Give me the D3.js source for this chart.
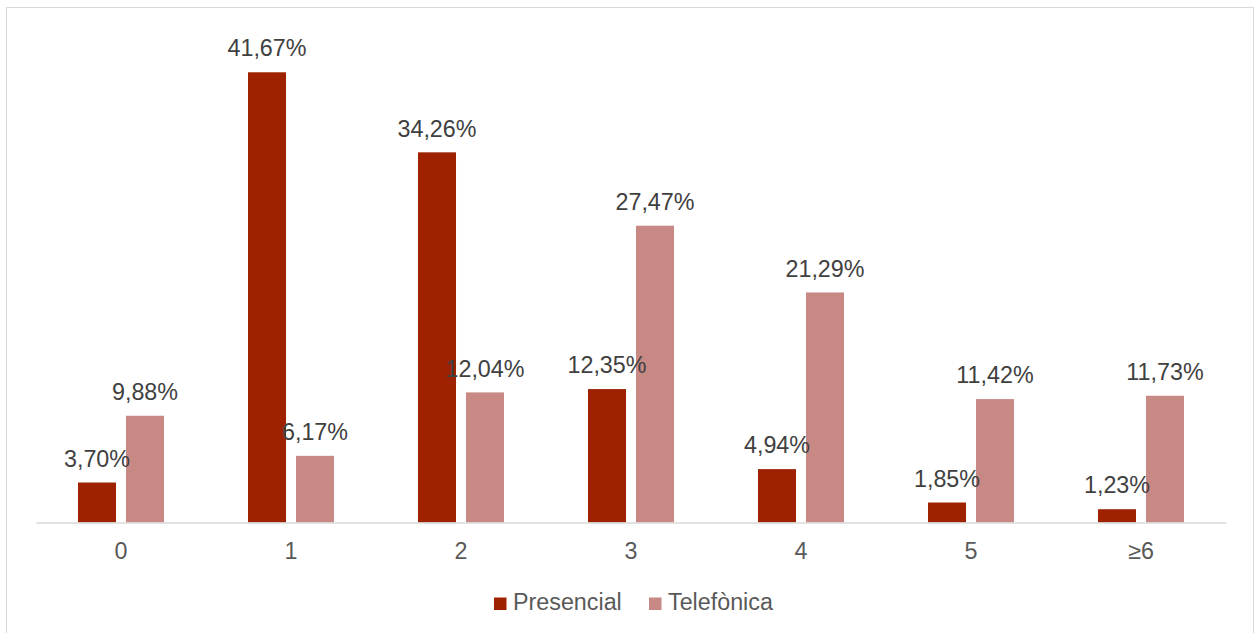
<!DOCTYPE html>
<html>
<head>
<meta charset="utf-8">
<script src="https://cdn.jsdelivr.net/npm/d3@7"></script>
<style>
  html, body { margin: 0; padding: 0; background: #fff; }
  svg { display: block; font-family: "Liberation Sans", Arial, sans-serif; }
</style>
</head>
<body>
<svg id="chart" width="1257" height="633"></svg>
<script>
// Number of visits (category) and share per consultation type
const categories = ["0", "1", "2", "3", "4", "5", "≥6"];
const seriesNames = ["Presencial", "Telefònica"];
const presencial = [3.70, 41.67, 34.26, 12.35, 4.94, 1.85, 1.23];
const telefonica = [9.88, 6.17, 12.04, 27.47, 21.29, 11.42, 11.73];
const colors = ["#9E2200", "#C88883"];

const FS = 23.3;
const svg = d3.select("#chart");

// outer frame
svg.append("rect")
  .attr("x", 6.5).attr("y", 7.5)
  .attr("width", 1247).attr("height", 640)
  .attr("fill", "#fff").attr("stroke", "#D9D9D9").attr("stroke-width", 1);

const x0 = d3.scaleBand().domain(categories).range([36, 1226]);
const bw = x0.bandwidth();
// two bars per category, centred, with a small gap between them
const x1 = d3.scaleBand().domain(seriesNames)
  .range([bw * 0.247, bw * 0.753]).paddingInner(0.208).paddingOuter(0);
const y = d3.scaleLinear().domain([0, 45]).range([522.5, 36.3]);

const rows = categories.map((c, i) => ({
  cat: c,
  vals: [
    { s: seriesNames[0], v: presencial[i], color: colors[0] },
    { s: seriesNames[1], v: telefonica[i], color: colors[1] }
  ]
}));

const fmt = v => v.toFixed(2).replace(".", ",") + "%";

const groups = svg.append("g").selectAll("g.cat").data(rows).join("g")
  .attr("class", "cat")
  .attr("transform", d => `translate(${x0(d.cat)},0)`);

groups.selectAll("rect").data(d => d.vals).join("rect")
  .attr("x", d => x1(d.s))
  .attr("width", x1.bandwidth())
  .attr("y", d => y(d.v))
  .attr("height", d => y(0) - y(d.v))
  .attr("fill", d => d.color);

// x axis
const xAxis = d3.axisBottom(x0).tickSize(0).tickPadding(20.3);
const ax = svg.append("g").attr("transform", `translate(0,${y(0)})`).call(xAxis);
ax.select(".domain").attr("stroke", "#D9D9D9").attr("stroke-width", 1.5);
ax.selectAll("text").attr("font-size", FS).attr("fill", "#595959")
  .attr("font-family", "Liberation Sans, Arial, sans-serif");

// value labels
groups.selectAll("text.lbl").data(d => d.vals).join("text")
  .attr("class", "lbl")
  .attr("x", d => x1(d.s) + x1.bandwidth() / 2)
  .attr("y", d => y(d.v) - 15.8)
  .attr("text-anchor", "middle")
  .attr("font-size", FS)
  .attr("fill", "#404040")
  .text(d => fmt(d.v));

// legend
const legendItems = [
  { name: seriesNames[0], color: colors[0], x: 494 },
  { name: seriesNames[1], color: colors[1], x: 649 }
];
const lg = svg.append("g");
lg.selectAll("rect").data(legendItems).join("rect")
  .attr("x", d => d.x).attr("y", 597.5)
  .attr("width", 12.5).attr("height", 12.5)
  .attr("fill", d => d.color);
lg.selectAll("text").data(legendItems).join("text")
  .attr("x", d => d.x + 19).attr("y", 610)
  .attr("font-size", FS).attr("fill", "#595959")
  .text(d => d.name);
</script>
</body>
</html>
